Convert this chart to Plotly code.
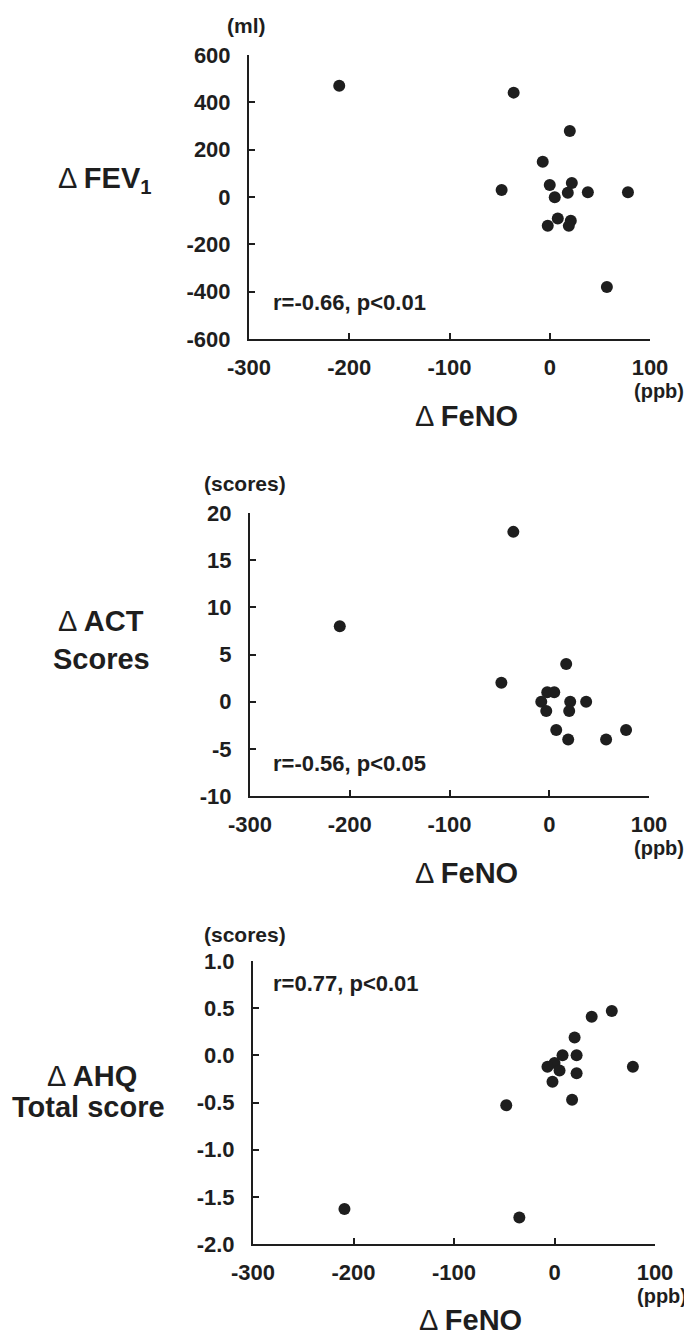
import plotly.graph_objects as go

# The page body adds an 8px margin, so the figure is drawn 8px smaller and
# every reference pixel position is shifted by that offset.
OFF = 8
W, H = 692 - OFF, 1339 - OFF

# ---- data ----
fev_dfeno = [-210, -36, 20, -7, -48, 0, 22, 18, 38, 78, 5, 8, -2, 21, 19, 57]
fev_delta = [470, 441, 279, 149, 30, 51, 59, 18, 20, 20, -1, -91, -121, -100, -122, -380]

act_dfeno = [-210, -36, 17, -48, -2, 5, -8, 21, 37, -3, 20, 7, 19, 57, 77]
act_delta = [8, 18, 4, 2, 1, 1, 0, 0, 0, -1, -1, -3, -4, -4, -3]

ahq_dfeno = [-209, -35, -48, 57, 37, 20, 8, 22, 0, -7, 5, 22, -2, 17.5, 78]
ahq_delta = [-1.63, -1.72, -0.53, 0.47, 0.41, 0.19, 0.0, 0.0, -0.08, -0.12, -0.16, -0.19, -0.28, -0.47, -0.12]

x_ticks = [-300, -200, -100, 0, 100]
fev_ticks = [-600, -400, -200, 0, 200, 400, 600]
act_ticks = [-10, -5, 0, 5, 10, 15, 20]
ahq_ticks = [-2.0, -1.5, -1.0, -0.5, 0.0, 0.5, 1.0]
ahq_ticktext = ["-2.0", "-1.5", "-1.0", "-0.5", "0.0", "0.5", "1.0"]

stats = ["r=-0.66, p<0.01", "r=-0.56, p<0.05", "r=0.77, p<0.01"]

FONT = "Liberation Sans, Arial, sans-serif"
INK = "#1e1e1e"

def px(x, y):
    return (x - OFF) / W, 1 - (y - OFF) / H

# panel plot areas in reference pixels: (left, right, top, bottom)
boxes = [(249, 650, 55, 339), (250, 649, 513, 796), (253, 655, 961, 1244)]

fig = go.Figure()
series = [(fev_dfeno, fev_delta), (act_dfeno, act_delta), (ahq_dfeno, ahq_delta)]
for i, (xs, ys) in enumerate(series):
    fig.add_trace(go.Scatter(
        x=xs, y=ys, mode="markers",
        marker=dict(size=12, color=INK, line=dict(width=0)),
        xaxis="x" if i == 0 else f"x{i+1}",
        yaxis="y" if i == 0 else f"y{i+1}",
        showlegend=False, hoverinfo="skip"))

layout = dict(
    width=W, height=H,
    margin=dict(l=0, r=0, t=0, b=0, pad=0, autoexpand=False),
    paper_bgcolor="white", plot_bgcolor="white", showlegend=False,
    font=dict(family=FONT, color=INK),
)

yranges = [(-600, 600), (-10, 20), (-2.0, 1.0)]
yticks = [fev_ticks, act_ticks, ahq_ticks]
for i, (l, r, t, b) in enumerate(boxes):
    sx = "" if i == 0 else str(i + 1)
    x0, _ = px(l, 0)
    x1, _ = px(r, 0)
    _, y0 = px(0, b)
    _, y1 = px(0, t)
    axis_common = dict(
        showline=True, linecolor=INK, linewidth=2, mirror=False,
        showgrid=False, zeroline=False, automargin=False,
        ticks="inside", ticklen=6, tickwidth=2, tickcolor=INK,
        tickfont=dict(family=FONT, size=22, color=INK, weight="bold"),
        fixedrange=True,
    )
    layout["xaxis" + sx] = dict(
        axis_common, domain=[x0, x1], range=[-300, 100],
        tickmode="array", tickvals=x_ticks,
        ticktext=[str(v) for v in x_ticks],
        anchor="y" + sx, ticklabelstandoff=8,
    )
    yax = dict(
        axis_common, domain=[y0, y1], range=list(yranges[i]),
        tickmode="array", tickvals=yticks[i],
        anchor="x" + sx, ticklabelstandoff=12,
    )
    if i == 2:
        yax["ticktext"] = ahq_ticktext
    else:
        yax["ticktext"] = [str(v) for v in yticks[i]]
    layout["yaxis" + sx] = yax

fig.update_layout(**layout)

def note(text, x, y, size, xanchor="center", yanchor="middle"):
    X, Y = px(x, y)
    fig.add_annotation(text=text, x=X, y=Y, xref="paper", yref="paper",
                       showarrow=False, xanchor=xanchor, yanchor=yanchor,
                       font=dict(family=FONT, size=size, color=INK))

TS = 29
# panel 1
note("<b>(ml)</b>", 246, 26, 21)
note("Δ <b>FEV<sub>1</sub></b>", 105, 180, TS)
note("<b>(ppb)</b>", 659, 391, 20)
note("Δ <b>FeNO</b>", 466, 416, TS)
note("<b>" + stats[0] + "</b>", 271, 302, 22, xanchor="left")
# panel 2
note("<b>(scores)</b>", 245, 483, 21)
note("Δ <b>ACT</b>", 101, 621, TS)
note("<b>Scores</b>", 101, 659, TS)
note("<b>(ppb)</b>", 659, 848, 20)
note("Δ <b>FeNO</b>", 466, 873, TS)
note("<b>" + stats[1] + "</b>", 271, 763, 22, xanchor="left")
# panel 3
note("<b>(scores)</b>", 245, 934, 21)
note("Δ <b>AHQ</b>", 92, 1076, TS)
note("<b>Total score</b>", 88, 1107, TS)
note("<b>(ppb)</b>", 662, 1296, 20)
note("Δ <b>FeNO</b>", 470, 1320, TS)
note("<b>" + stats[2] + "</b>", 271, 983, 22, xanchor="left")

fig.write_html("out.html")
